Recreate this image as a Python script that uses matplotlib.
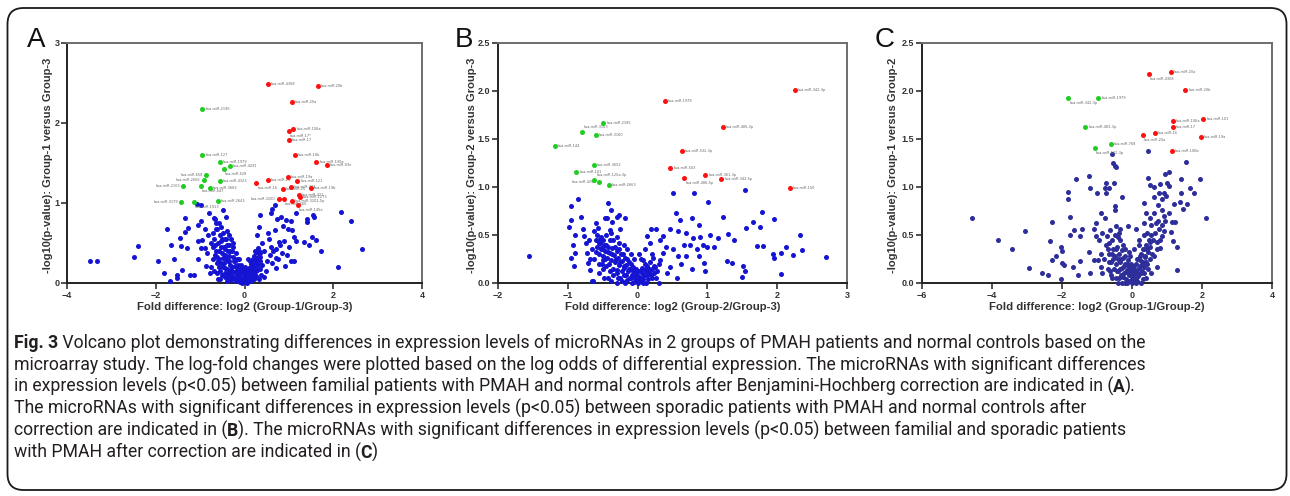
import numpy as np
import matplotlib
matplotlib.use("Agg")
import matplotlib.pyplot as plt
from matplotlib import font_manager
from matplotlib.patches import FancyBboxPatch
from matplotlib.transforms import IdentityTransform

W, H = 1290, 496

# ---------------- Panel A data ----------------
a_red = [(0.53, 2.49), (1.65, 2.46), (1.06, 2.26), (1.10, 1.92), (1.00, 1.90), (1.00, 1.79),
         (1.13, 1.60), (1.62, 1.51), (1.86, 1.47), (0.98, 1.32), (0.53, 1.29), (0.27, 1.25),
         (1.19, 1.28), (1.04, 1.20), (0.87, 1.17), (1.50, 1.19), (1.22, 1.10), (1.25, 1.07),
         (0.77, 1.05), (0.89, 1.05), (1.06, 1.02), (1.20, 0.97)]
a_red_labels = ["hsa-miR-4308", "hsa-miR-20b", "hsa-miR-20a", "hsa-miR-106a", "hsa-miR-17*", "hsa-miR-17",
                "hsa-miR-18b", "hsa-miR-130a", "hsa-miR-93e", "hsa-miR-19a", "hsa-miR-21", "hsa-miR-16",
                "hsa-miR-121", "hsa-miR-423", "hsa-miR-25", "hsa-miR-19b", "hsa-miR-421", "hsa-miR-1273",
                "hsa-miR-3200", "hsa-miR-660", "hsa-miR-3202-5p", "hsa-miR-145a"]
a_red_side = ["r", "r", "r", "r", "b", "r", "r", "r", "r", "r", "r", "b",
              "r", "r", "r", "r", "r", "r", "l", "b", "r", "b"]
a_green = [(-0.95, 2.18), (-0.95, 1.60), (-0.56, 1.51), (-0.33, 1.46), (-0.47, 1.43), (-0.86, 1.35),
           (-0.92, 1.29), (-0.56, 1.27), (-1.39, 1.21), (-0.98, 1.21), (-0.78, 1.19), (-1.43, 1.01),
           (-1.14, 1.01), (-0.60, 1.03)]
a_green_labels = ["hsa-miR-2196", "hsa-miR-127", "hsa-miR-1979", "hsa-miR-4291", "hsa-miR-628", "hsa-miR-658",
                  "hsa-miR-2656", "hsa-miR-4323", "hsa-miR-2103", "hsa-miR-647", "hsa-miR-3683", "hsa-miR-3179",
                  "hsa-miR-1913", "hsa-miR-2643"]
a_green_side = ["r", "r", "r", "r", "b", "l", "l", "r", "l", "b", "r", "l", "b", "r"]
a_blue = [(-3.49, 0.27), (-3.33, 0.27), (-2.48, 0.32), (-2.40, 0.46), (-1.95, 0.27), (-1.81, 0.13),
          (-1.74, 0.67), (-1.69, 0.03), (-1.65, 0.47), (-1.59, 0.30), (-1.52, 0.10), (-1.51, 0.06),
          (-1.46, 0.56), (-1.43, 0.46), (-1.40, 0.16), (-1.35, 0.81), (-1.34, 0.64), (-1.29, 0.44),
          (-1.28, 0.69), (-1.22, 0.10), (-1.13, 0.10), (-1.05, 0.52), (-1.04, 0.30), (-1.04, 0.73),
          (-0.99, 0.44), (-0.98, 0.77), (-0.95, 0.54), (-1.07, 0.99), (-0.99, 0.97), (-0.90, 0.44),
          (-0.89, 0.67), (-0.80, 0.87), (-0.84, 0.38), (-0.69, 0.81), (-0.65, 0.75), (-0.49, 0.91),
          (-0.86, 0.21), (-0.78, 0.13), (-0.63, 0.67), (-0.82, 0.60), (-0.76, 0.50),
          (0.29, 0.60), (0.32, 0.70), (0.35, 0.85), (0.43, 0.07), (0.59, 0.87), (0.63, 0.92),
          (0.68, 0.98), (0.68, 0.66), (0.70, 0.19), (0.71, 0.31), (0.74, 0.80), (0.77, 0.51),
          (0.83, 0.83), (0.86, 0.71), (0.92, 0.21), (0.94, 0.79), (0.98, 0.68), (1.00, 0.45),
          (1.05, 0.77), (1.08, 0.66), (1.11, 0.58), (1.04, 0.27), (1.11, 0.27), (1.17, 0.53),
          (1.34, 0.51), (1.40, 0.80), (1.41, 0.76), (1.45, 0.48), (1.55, 0.85), (1.56, 0.83),
          (1.52, 0.58), (1.61, 0.54), (1.73, 0.40), (2.10, 0.20), (2.17, 0.89), (2.40, 0.78),
          (2.65, 0.43), (1.17, 0.87), (0.55, 0.55), (0.60, 0.45), (0.65, 0.40), (0.72, 0.43),
          (0.80, 0.47), (0.85, 0.38), (0.90, 0.52), (0.58, 0.35), (0.50, 0.28), (0.45, 0.40),
          (0.62, 0.25), (0.75, 0.30), (0.40, 0.22), (0.48, 0.15), (0.95, 0.35), (0.52, 0.62),
          (0.40, 0.50), (0.36, 0.38)]
a_blue_core = [(-0.72, 0.62), (-0.68, 0.55), (-0.66, 0.48), (-0.64, 0.40), (-0.62, 0.33), (-0.60, 0.27),
               (-0.58, 0.20), (-0.56, 0.60), (-0.54, 0.52), (-0.52, 0.45), (-0.50, 0.38), (-0.48, 0.31),
               (-0.46, 0.25), (-0.44, 0.19), (-0.42, 0.55), (-0.40, 0.47), (-0.38, 0.40), (-0.36, 0.34),
               (-0.34, 0.28), (-0.32, 0.22), (-0.30, 0.16), (-0.28, 0.40), (-0.26, 0.33), (-0.24, 0.27),
               (-0.22, 0.21), (-0.20, 0.15), (-0.18, 0.10), (-0.16, 0.30), (-0.14, 0.23), (-0.12, 0.17),
               (-0.10, 0.12), (-0.08, 0.07), (-0.06, 0.04), (-0.04, 0.15), (-0.02, 0.08), (0.00, 0.03),
               (0.02, 0.10), (0.04, 0.05), (0.06, 0.14), (0.08, 0.08), (0.10, 0.19), (0.12, 0.12),
               (0.14, 0.24), (0.16, 0.16), (0.18, 0.29), (0.20, 0.21), (0.22, 0.34), (0.24, 0.26),
               (0.26, 0.39), (0.28, 0.31), (0.30, 0.44), (0.32, 0.36), (0.30, 0.22), (0.26, 0.15),
               (0.22, 0.10), (0.18, 0.06), (0.14, 0.03), (0.10, 0.02), (-0.50, 0.10), (-0.45, 0.07),
               (-0.40, 0.10), (-0.35, 0.06), (-0.30, 0.04), (-0.25, 0.06), (-0.20, 0.03), (-0.15, 0.05),
               (-0.10, 0.01), (-0.05, 0.00), (0.05, 0.00), (-0.62, 0.12), (-0.55, 0.05), (-0.58, 0.40),
               (-0.45, 0.42), (-0.35, 0.48), (-0.30, 0.55), (-0.25, 0.45), (-0.20, 0.38), (-0.12, 0.30),
               (0.00, 0.20), (-0.48, 0.62), (-0.40, 0.65), (-0.64, 0.68), (-0.52, 0.70), (0.34, 0.28),
               (0.36, 0.18), (0.38, 0.10), (0.33, 0.05), (-0.08, 0.22), (0.08, 0.30), (-0.70, 0.30),
               (-0.75, 0.20), (-0.68, 0.15)]
a_blue_core2 = [(-0.70, 0.45), (-0.66, 0.35), (-0.63, 0.25), (-0.60, 0.50), (-0.57, 0.30), (-0.55, 0.15),
                (-0.53, 0.25), (-0.50, 0.55), (-0.49, 0.20), (-0.47, 0.45), (-0.44, 0.35), (-0.43, 0.12),
                (-0.41, 0.30), (-0.39, 0.18), (-0.37, 0.28), (-0.35, 0.14), (-0.33, 0.40), (-0.31, 0.10),
                (-0.29, 0.20), (-0.27, 0.08), (-0.23, 0.14), (-0.21, 0.28), (-0.19, 0.05), (-0.17, 0.20),
                (-0.13, 0.08), (-0.11, 0.20), (-0.09, 0.03), (-0.07, 0.14), (-0.03, 0.05), (-0.01, 0.12),
                (0.01, 0.06), (0.03, 0.15), (0.05, 0.09), (0.07, 0.02), (0.09, 0.13), (0.11, 0.06),
                (0.13, 0.17), (0.15, 0.10), (0.17, 0.22), (0.19, 0.13), (0.21, 0.05), (0.23, 0.19),
                (0.25, 0.09), (0.27, 0.25), (0.29, 0.16), (0.31, 0.30), (0.33, 0.40), (0.35, 0.32),
                (0.24, 0.40), (0.20, 0.30), (-0.60, 0.05), (-0.40, 0.02), (-0.15, 0.10), (0.00, 0.10),
                (-0.05, 0.18), (0.12, 0.28), (-0.26, 0.50), (-0.45, 0.55), (-0.36, 0.60), (-0.58, 0.75),
                (-0.66, 0.80), (-0.42, 0.82)]

# ---------------- Panel B data ----------------
b_red = [(2.25, 2.01), (0.39, 1.90), (1.22, 1.62), (0.63, 1.37), (0.47, 1.20), (0.97, 1.13),
         (0.67, 1.09), (1.20, 1.08), (2.18, 0.99)]
b_red_labels = ["hsa-miR-342-3p", "hsa-miR-1979", "hsa-miR-485-3p", "hsa-miR-532-3p", "hsa-miR-503",
                "hsa-miR-361-3p", "hsa-miR-486-5p", "hsa-miR-342-5p", "hsa-miR-150"]
b_red_side = ["r", "r", "r", "r", "r", "r", "b", "r", "r"]
b_green = [(-0.49, 1.67), (-0.80, 1.57), (-0.60, 1.54), (-1.19, 1.43), (-0.63, 1.23), (-0.88, 1.16),
           (-0.62, 1.07), (-0.55, 1.05), (-0.41, 1.02)]
b_green_labels = ["hsa-miR-2185", "hsa-miR-3163", "hsa-miR-3160", "hsa-miR-144", "hsa-miR-3652",
                  "hsa-miR-101", "hsa-miR-125a-3p", "hsa-miR-4257", "hsa-miR-2663"]
b_green_side = ["r", "t", "r", "r", "r", "r", "t", "l", "r"]
b_blue = [(-1.56, 0.28), (-0.98, 0.58), (-0.96, 0.80), (-0.95, 0.66), (-0.85, 0.88), (-0.92, 0.40),
          (-0.95, 0.26), (-0.91, 0.18), (-0.89, 0.50), (-0.89, 0.31), (-0.81, 0.69), (-0.78, 0.56),
          (-0.77, 0.49), (-0.74, 0.42), (-0.73, 0.31), (-0.71, 0.21), (-0.68, 0.14), (-0.66, 0.02),
          (-0.64, 0.02), (-0.63, 0.54), (-0.60, 0.62), (-0.57, 0.57), (-0.55, 0.45), (-0.53, 0.36),
          (-0.50, 0.24), (-0.47, 0.68), (-0.44, 0.68), (-0.43, 0.83), (-0.38, 0.76), (-0.36, 0.64),
          (-0.29, 0.69), (-0.27, 0.71), (-0.18, 0.68), (-0.25, 0.56),
          (0.50, 0.94), (0.81, 0.94), (1.01, 0.84), (0.55, 0.73), (0.61, 0.66), (0.78, 0.68),
          (0.88, 0.60), (1.23, 0.69), (1.54, 0.97), (1.55, 0.57), (1.78, 0.74), (1.65, 0.64),
          (1.75, 0.58), (1.96, 0.67), (2.32, 0.50), (1.30, 0.51), (1.38, 0.45), (1.15, 0.47),
          (1.04, 0.50), (0.93, 0.40), (0.99, 0.38), (0.75, 0.40), (0.88, 0.28), (0.95, 0.21),
          (0.97, 0.13), (1.28, 0.23), (1.35, 0.21), (1.51, 0.18), (1.54, 0.13), (1.49, 0.06),
          (1.71, 0.39), (1.79, 0.39), (1.94, 0.30), (1.95, 0.26), (2.05, 0.31), (2.13, 0.38),
          (2.23, 0.29), (2.35, 0.34), (2.70, 0.27), (2.05, 0.09), (0.58, 0.54), (0.46, 0.56),
          (0.37, 0.49), (0.66, 0.40), (0.51, 0.35), (0.58, 0.28), (0.70, 0.28), (0.56, 0.05),
          (0.30, 0.00), (0.19, 0.56), (0.27, 0.56), (0.13, 0.49), (0.18, 0.42), (0.32, 0.45),
          (0.41, 0.38), (0.37, 0.31), (0.32, 0.24), (0.25, 0.17), (0.46, 0.17), (0.42, 0.10),
          (0.08, 0.24), (0.13, 0.17), (0.15, 0.09), (0.80, 0.47), (0.70, 0.52), (0.85, 0.35),
          (0.62, 0.20), (0.78, 0.15), (0.90, 0.48), (1.10, 0.38)]
b_blue_core = [(-0.60, 0.45), (-0.58, 0.38), (-0.56, 0.30), (-0.54, 0.42), (-0.52, 0.35), (-0.50, 0.28),
               (-0.48, 0.40), (-0.46, 0.33), (-0.44, 0.26), (-0.42, 0.38), (-0.40, 0.31), (-0.38, 0.24),
               (-0.36, 0.36), (-0.34, 0.29), (-0.32, 0.22), (-0.30, 0.33), (-0.28, 0.26), (-0.26, 0.19),
               (-0.24, 0.30), (-0.22, 0.23), (-0.20, 0.16), (-0.18, 0.26), (-0.16, 0.19), (-0.14, 0.12),
               (-0.12, 0.22), (-0.10, 0.15), (-0.08, 0.08), (-0.06, 0.17), (-0.04, 0.10), (-0.02, 0.04),
               (0.00, 0.12), (0.02, 0.06), (0.04, 0.02), (0.06, 0.10), (0.08, 0.04), (0.10, 0.14),
               (0.12, 0.08), (0.14, 0.18), (0.16, 0.11), (0.18, 0.22), (0.20, 0.15), (0.22, 0.26),
               (0.24, 0.10), (-0.40, 0.12), (-0.35, 0.08), (-0.30, 0.14), (-0.25, 0.05), (-0.20, 0.08),
               (-0.15, 0.03), (-0.10, 0.05), (-0.05, 0.01), (0.00, 0.00), (-0.45, 0.18), (-0.50, 0.15),
               (-0.55, 0.20), (-0.35, 0.45), (-0.30, 0.48), (-0.45, 0.50), (-0.40, 0.55), (-0.20, 0.40),
               (-0.10, 0.30), (0.05, 0.25), (-0.62, 0.25), (-0.65, 0.35), (-0.30, 0.00), (-0.22, 0.02),
               (0.12, 0.00), (0.20, 0.05), (-0.48, 0.05), (-0.38, 0.02), (0.28, 0.12), (0.30, 0.20)]
b_blue_core2 = [(-0.58, 0.50), (-0.56, 0.42), (-0.53, 0.48), (-0.51, 0.20), (-0.49, 0.35), (-0.47, 0.25),
                (-0.45, 0.40), (-0.43, 0.32), (-0.41, 0.20), (-0.39, 0.45), (-0.37, 0.30), (-0.35, 0.15),
                (-0.33, 0.38), (-0.31, 0.25), (-0.29, 0.10), (-0.27, 0.35), (-0.25, 0.22), (-0.23, 0.12),
                (-0.21, 0.30), (-0.19, 0.18), (-0.17, 0.08), (-0.15, 0.25), (-0.13, 0.15), (-0.11, 0.05),
                (-0.09, 0.20), (-0.07, 0.12), (-0.05, 0.06), (-0.03, 0.15), (-0.01, 0.08), (0.01, 0.02),
                (0.03, 0.12), (0.05, 0.05), (0.07, 0.16), (0.09, 0.08), (0.11, 0.20), (0.13, 0.12),
                (0.15, 0.04), (0.17, 0.15), (0.19, 0.08), (0.21, 0.30), (0.23, 0.18), (0.26, 0.05),
                (-0.28, 0.05), (-0.18, 0.00), (-0.08, 0.00), (0.08, 0.00), (-0.42, 0.05), (-0.55, 0.10),
                (-0.60, 0.32), (-0.50, 0.45), (-0.38, 0.52), (-0.26, 0.42), (-0.15, 0.35), (-0.05, 0.25),
                (0.02, 0.30), (0.10, 0.35), (-0.70, 0.45), (-0.68, 0.25)]

# ---------------- Panel C data ----------------
c_red = [(1.10, 2.20), (0.48, 2.18), (1.52, 2.01), (2.04, 1.71), (1.16, 1.69), (1.16, 1.63),
         (0.65, 1.56), (0.30, 1.54), (1.96, 1.52), (1.13, 1.37)]
c_red_labels = ["hsa-miR-20a", "hsa-miR-4308", "hsa-miR-20b", "hsa-miR-101", "hsa-miR-106a",
                "hsa-miR-17", "hsa-miR-16", "hsa-miR-20a", "hsa-miR-19a", "hsa-miR-106b"]
c_red_side = ["r", "b", "r", "r", "r", "r", "r", "b", "r", "r"]
c_green = [(-1.82, 1.93), (-0.96, 1.93), (-1.33, 1.63), (-0.60, 1.45), (-1.06, 1.41)]
c_green_labels = ["hsa-miR-342-3p", "hsa-miR-1979", "hsa-miR-483-3p", "hsa-miR-768", "hsa-miR-532-3p"]
c_green_side = ["b", "r", "r", "r", "b"]
c_blue = [(-4.57, 0.68), (-3.82, 0.45), (-3.43, 0.35), (-3.07, 0.54), (-2.95, 0.16), (-2.57, 0.10),
          (-2.41, 0.08), (-2.30, 0.64), (-2.33, 0.44), (-2.30, 0.24), (-2.18, 0.28), (-2.03, 0.38),
          (-2.01, 0.33), (-2.03, 0.04), (-1.99, 0.21), (-1.93, 0.19), (-1.82, 0.95), (-1.82, 0.87),
          (-1.78, 0.69), (-1.76, 0.50), (-1.70, 0.17), (-1.67, 0.55), (-1.61, 1.08), (-1.55, 0.08),
          (-1.49, 0.23), (-1.44, 0.56), (-1.48, 0.49), (-1.23, 1.11), (-1.19, 0.99), (-1.23, 0.32),
          (-1.19, 0.10), (-1.10, 0.56), (-1.03, 0.63), (-0.99, 0.94), (-0.90, 0.73), (-0.76, 0.99),
          (-0.74, 1.04), (-0.73, 0.94), (-0.67, 0.99), (-0.52, 1.04), (-0.57, 1.34), (-0.54, 1.25),
          (-0.50, 1.22), (-0.45, 1.21), (-0.50, 0.80), (-0.50, 0.76), (-0.30, 0.90), (-0.77, 0.68),
          (-0.85, 0.52), (-1.02, 0.49), (-0.71, 0.49), (-0.67, 0.42), (-0.38, 0.52), (-0.45, 0.59),
          (-0.33, 0.56), (-0.11, 0.59), (0.10, 0.56), (-0.96, 0.24), (-1.10, 0.24), (-0.90, 0.17),
          (0.45, 1.37), (0.47, 1.09), (0.52, 1.02), (0.62, 1.00), (0.81, 1.03), (0.93, 1.14),
          (1.07, 1.16), (1.00, 1.04), (1.05, 1.01), (0.90, 0.94), (0.78, 0.94), (0.86, 0.87),
          (0.98, 0.91), (1.40, 1.08), (1.55, 1.26), (1.95, 1.08), (1.65, 0.99), (1.78, 0.94),
          (1.41, 0.94), (1.36, 0.84), (1.45, 0.77), (1.57, 0.82), (2.12, 0.68), (0.33, 0.83),
          (0.62, 0.90), (0.74, 0.81), (0.41, 0.73), (0.52, 0.68), (0.64, 0.73), (0.86, 0.76),
          (1.05, 0.73), (1.15, 0.64), (1.24, 0.64), (1.10, 0.53), (1.16, 0.44), (1.29, 0.38),
          (1.29, 0.14), (0.86, 0.49), (0.76, 0.56), (0.90, 0.54), (0.70, 0.43), (0.43, 0.52),
          (0.52, 0.43), (0.81, 0.36), (0.33, 0.35), (0.24, 0.24), (0.62, 0.28), (0.19, 0.45),
          (0.71, 0.17), (0.55, 0.60), (0.35, 0.62), (0.95, 0.65), (0.68, 0.62), (1.20, 0.82)]
c_blue_core = [(-0.65, 0.30), (-0.60, 0.22), (-0.55, 0.35), (-0.52, 0.15), (-0.50, 0.28), (-0.45, 0.20),
               (-0.42, 0.38), (-0.40, 0.12), (-0.38, 0.30), (-0.35, 0.22), (-0.32, 0.08), (-0.30, 0.34),
               (-0.28, 0.16), (-0.25, 0.26), (-0.22, 0.10), (-0.20, 0.20), (-0.18, 0.04), (-0.15, 0.14),
               (-0.12, 0.24), (-0.10, 0.08), (-0.08, 0.17), (-0.05, 0.02), (-0.02, 0.11), (0.00, 0.06),
               (0.02, 0.15), (0.05, 0.01), (0.08, 0.10), (0.10, 0.20), (0.12, 0.05), (0.15, 0.14),
               (0.18, 0.25), (0.20, 0.09), (0.22, 0.18), (0.25, 0.30), (0.28, 0.13), (0.30, 0.22),
               (0.32, 0.35), (0.35, 0.17), (0.38, 0.27), (0.40, 0.40), (0.42, 0.20), (0.45, 0.32),
               (0.48, 0.45), (-0.45, 0.05), (-0.30, 0.00), (-0.15, 0.00), (0.00, 0.00), (0.15, 0.02),
               (0.30, 0.04), (-0.60, 0.08), (-0.70, 0.15), (-0.75, 0.40), (-0.58, 0.45), (-0.48, 0.50),
               (-0.35, 0.45), (-0.20, 0.35), (-0.05, 0.28), (0.05, 0.35), (0.20, 0.40), (0.35, 0.50),
               (0.50, 0.25), (0.55, 0.10), (-0.80, 0.25), (-0.85, 0.10)]
c_blue_core2 = [(-0.70, 0.35), (-0.66, 0.22), (-0.63, 0.12), (-0.58, 0.30), (-0.56, 0.05), (-0.53, 0.25),
                (-0.47, 0.35), (-0.44, 0.12), (-0.41, 0.25), (-0.37, 0.05), (-0.34, 0.15), (-0.31, 0.25),
                (-0.27, 0.06), (-0.24, 0.18), (-0.21, 0.28), (-0.17, 0.11), (-0.14, 0.20), (-0.11, 0.02),
                (-0.07, 0.10), (-0.04, 0.20), (-0.01, 0.03), (0.03, 0.08), (0.06, 0.18), (0.09, 0.03),
                (0.11, 0.12), (0.14, 0.25), (0.17, 0.07), (0.19, 0.16), (0.23, 0.28), (0.26, 0.10),
                (0.29, 0.20), (0.33, 0.10), (0.36, 0.28), (0.40, 0.22), (0.43, 0.35), (0.46, 0.15),
                (0.50, 0.38), (0.53, 0.50), (0.58, 0.30), (0.60, 0.45), (0.65, 0.52), (0.70, 0.35),
                (0.75, 0.65), (0.80, 0.45), (0.85, 0.60), (0.92, 0.70), (-0.90, 0.30), (-0.95, 0.45),
                (-0.62, 0.55), (-0.40, 0.48), (-0.25, 0.40), (-0.10, 0.32), (0.00, 0.15), (-0.20, 0.00),
                (0.10, 0.00), (0.25, 0.00), (-0.40, 0.00), (0.40, 0.05)]

# ---------------- Axis settings ----------------
a_xticks = [-4, -2, 0, 2, 4]
a_yticks = [0, 1, 2, 3]
a_yticklabels = ["0", "1", "2", "3"]
b_xticks = [-2, -1, 0, 1, 2, 3]
b_yticks = [0.0, 0.5, 1.0, 1.5, 2.0, 2.5]
b_yticklabels = ["0.0", "0.5", "1.0", "1.5", "2.0", "2.5"]
c_xticks = [-6, -4, -2, 0, 2, 4]
c_yticks = [0.0, 0.5, 1.0, 1.5, 2.0, 2.5]
c_yticklabels = ["0.0", "0.5", "1.0", "1.5", "2.0", "2.5"]

panels = [
    dict(letter="A", rect=(67, 43, 355, 240), xlim=(-4, 4), ylim=(0, 3),
         xticks=a_xticks, yticks=a_yticks, yticklabels=a_yticklabels,
         blue=a_blue + a_blue_core + a_blue_core2, red=a_red, redlab=a_red_labels, redside=a_red_side,
         green=a_green, greenlab=a_green_labels, greenside=a_green_side,
         bluecol="#1414d2", xlabel="Fold difference: log2 (Group-1/Group-3)",
         ylabel="-log10(p-value): Group-1 versus Group-3", letter_x=27, ylab_x=48),
    dict(letter="B", rect=(498, 43, 349, 240), xlim=(-2, 3), ylim=(0, 2.5),
         xticks=b_xticks, yticks=b_yticks, yticklabels=b_yticklabels,
         blue=b_blue + b_blue_core + b_blue_core2, red=b_red, redlab=b_red_labels, redside=b_red_side,
         green=b_green, greenlab=b_green_labels, greenside=b_green_side,
         bluecol="#1414d2", xlabel="Fold difference: log2 (Group-2/Group-3)",
         ylabel="-log10(p-value): Group-2 versus Group-3", letter_x=455, ylab_x=472),
    dict(letter="C", rect=(922, 43, 350, 240), xlim=(-6, 4), ylim=(0, 2.5),
         xticks=c_xticks, yticks=c_yticks, yticklabels=c_yticklabels,
         blue=c_blue + c_blue_core + c_blue_core2, red=c_red, redlab=c_red_labels, redside=c_red_side,
         green=c_green, greenlab=c_green_labels, greenside=c_green_side,
         bluecol="#2e2e9a", xlabel="Fold difference: log2 (Group-1/Group-2)",
         ylabel="-log10(p-value): Group-1 versus Group-2", letter_x=875, ylab_x=893),
]

fig = plt.figure(figsize=(W / 100, H / 100), dpi=100)
fig.patch.set_facecolor("white")

# Rounded frame
frame = FancyBboxPatch((7.5, 6), 1279, 482, boxstyle="round,pad=0,rounding_size=16",
                       transform=IdentityTransform(), facecolor="none",
                       edgecolor="#1a1a1a", linewidth=1.3)
fig.add_artist(frame)

for p in panels:
    x0, y0, w, h = p["rect"]
    ax = fig.add_axes([x0 / W, 1 - (y0 + h) / H, w / W, h / H])
    ax.set_xlim(*p["xlim"])
    ax.set_ylim(*p["ylim"])
    ax.set_xticks(p["xticks"])
    ax.set_yticks(p["yticks"])
    ax.set_yticklabels(p["yticklabels"])
    ax.tick_params(direction="out", length=4, width=1.1, pad=1.5, color="#222222")
    for lab in ax.get_xticklabels() + ax.get_yticklabels():
        lab.set_fontproperties(font_manager.FontProperties(
            family="Liberation Sans", weight="bold", size=6.5))
        lab.set_color("#333333")
    for s in ["left", "bottom"]:
        ax.spines[s].set_color("#222222")
        ax.spines[s].set_linewidth(1.4)
    for s in ["top", "right"]:
        ax.spines[s].set_color("#6e6e6e")
        ax.spines[s].set_linewidth(1.4)

    bl = np.array(p["blue"])
    ax.scatter(bl[:, 0], bl[:, 1], s=13, color=p["bluecol"], linewidths=0, zorder=3, clip_on=False)
    xr = (p["xlim"][1] - p["xlim"][0]) / w   # data per pixel
    yr = (p["ylim"][1] - p["ylim"][0]) / h
    for pts, labs, sides, col in [(p["red"], p["redlab"], p["redside"], "#ff1010"),
                                  (p["green"], p["greenlab"], p["greenside"], "#22cc22")]:
        arr = np.array(pts)
        ax.scatter(arr[:, 0], arr[:, 1], s=13, color=col, linewidths=0, zorder=4)
        for (x, y), t, sd in zip(pts, labs, sides):
            if sd == "r":
                ax.text(x + 3 * xr, y, t, fontsize=2.5, color="#666666", ha="left", va="center")
            elif sd == "l":
                ax.text(x - 3 * xr, y, t, fontsize=2.5, color="#666666", ha="right", va="center")
            elif sd == "b":
                ax.text(x + 1 * xr, y - 5 * yr, t, fontsize=2.5, color="#666666", ha="left", va="center")
            else:
                ax.text(x + 2 * xr, y + 5 * yr, t, fontsize=2.5, color="#666666", ha="left", va="center")

    ax.text(0.5, -24 / h, p["xlabel"], transform=ax.transAxes, ha="center", va="center",
            family="Liberation Sans", weight="bold", fontsize=8.2, color="#333333")
    fig.text(p["ylab_x"] / W, 1 - (y0 + h / 2 + 2) / H, p["ylabel"], rotation=90,
             ha="center", va="center", family="Liberation Sans", weight="bold",
             fontsize=8.0, color="#333333")
    fig.text(p["letter_x"] / W, 1 - 47 / H, p["letter"], ha="left", va="baseline",
             family="Liberation Sans", fontsize=20, color="#111111")

# ---------------- Caption ----------------
caption_lines = [
    [("Fig. 3", True), (" Volcano plot demonstrating differences in expression levels of microRNAs in 2 groups of PMAH patients and normal controls based on the", False)],
    [("microarray study. The log-fold changes were plotted based on the log odds of differential expression. The microRNAs with significant differences", False)],
    [("in expression levels (p<0.05) between familial patients with PMAH and normal controls after Benjamini-Hochberg correction are indicated in (", False), ("A", True), (").", False)],
    [("The microRNAs with significant differences in expression levels (p<0.05) between sporadic patients with PMAH and normal controls after", False)],
    [("correction are indicated in (", False), ("B", True), ("). The microRNAs with significant differences in expression levels (p<0.05) between familial and sporadic patients", False)],
    [("with PMAH after correction are indicated in (", False), ("C", True), (")", False)],
]

cap_family = "Lato"
for cand in ["Liberation Sans Narrow", "Roboto", "Lato"]:
    try:
        font_manager.findfont(font_manager.FontProperties(family=cand), fallback_to_default=False)
        cap_family = cand
        break
    except Exception:
        pass

fig.canvas.draw()
r = fig.canvas.get_renderer()


def line_width(parts, size):
    tot = 0
    for txt, b in parts:
        t = fig.text(0, 0, txt, fontsize=size, family=cap_family, weight="bold" if b else "normal")
        tot += t.get_window_extent(r).width
        t.remove()
    return tot


base = 10.0
wid = line_width(caption_lines[0], base)
cap_size = base * 1137 / wid

baseline0 = 348
for i, parts in enumerate(caption_lines):
    x = 13.5
    yb = baseline0 + 22 * i
    for txt, b in parts:
        t = fig.text(x / W, 1 - yb / H, txt, fontsize=cap_size, family=cap_family,
                     weight="bold" if b else "normal", color="#231f20", va="baseline", ha="left")
        x += t.get_window_extent(r).width

fig.savefig("out.png", dpi=100)
